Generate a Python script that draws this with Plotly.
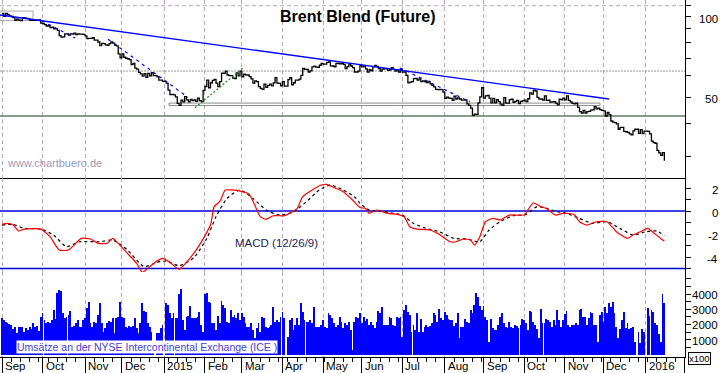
import numpy as np
import pandas as pd
import plotly.graph_objects as go

# ---------------- data ----------------
dates = pd.bdate_range("2014-09-01", "2016-01-15")        # one entry per trading day
axis_dates = pd.bdate_range("2014-09-01", "2016-02-01")   # axis extends to Feb 2016

close_2014_09 = [102.8, 100.3, 102.8, 101.8, 100.8, 100.2, 99.2, 97.0, 97.9, 97.1, 96.7, 99.1, 99.0, 98.5, 98.4, 97.0, 96.9, 97.0, 97.0, 97.0, 97.2, 94.7]
close_2014_10 = [94.2, 93.4, 92.3, 92.7, 91.1, 91.4, 90.1, 90.2, 88.9, 85.0, 83.8, 84.1, 86.2, 86.2, 85.4, 86.2, 86.1, 86.8, 85.8, 86.3, 86.0, 86.1, 85.9]
close_2014_11 = [84.8, 82.8, 82.9, 82.9, 83.4, 81.7, 81.7, 80.4, 77.9, 79.4, 79.3, 78.5, 78.1, 79.3, 80.4, 79.7, 78.3, 77.8, 72.6, 70.2]
close_2014_12 = [72.5, 70.5, 69.9, 69.6, 69.1, 66.2, 66.8, 64.2, 63.7, 61.9, 61.1, 59.9, 61.2, 59.3, 61.4, 60.1, 61.7, 60.2, None, 59.5, 57.9, 57.9, 57.3]
close_2015_01 = [None, 56.4, 53.1, 51.1, 51.2, 51.0, 50.1, 47.4, 46.6, 48.7, 48.0, 50.2, 48.8, 48.0, 49.0, 48.5, 48.8, 48.2, 49.6, 48.5, 48.1, 53.0]
close_2015_02 = [54.8, 57.9, 54.2, 56.6, 57.8, 58.3, 56.4, 54.7, 57.1, 61.5, 61.4, 62.5, 60.5, 60.2, 60.2, 58.9, 58.7, 61.6, 60.1, 62.6]
close_2015_03 = [59.5, 61.0, 60.6, 60.5, 59.7, 58.5, 56.4, 57.5, 57.1, 54.7, 53.9, 53.5, 55.9, 54.4, 55.3, 55.9, 55.1, 56.5, 59.2, 56.4, 56.3, 55.1]
close_2015_04 = [57.1, 55.0, None, 58.1, 59.1, 55.6, 56.6, 57.9, 57.9, 58.4, 60.3, 64.0, 63.5, 63.5, 62.1, 62.7, 64.9, 65.3, 64.8, 64.6, 65.8, 66.8]
close_2015_05 = [66.5, 66.5, 67.5, 67.8, 65.5, 65.4, 64.9, 66.9, 66.8, 66.6, 66.8, 66.3, 64.0, 65.0, 66.5, 65.4, 64.5, 62.1, 62.1, 62.6, 65.6]
close_2015_06 = [64.9, 65.5, 63.8, 62.0, 63.3, 62.7, 64.9, 65.7, 65.1, 63.9, 62.6, 63.7, 63.9, 63.8, 63.0, 63.3, 64.5, 63.5, 62.6, 63.3, 62.0, 63.6]
close_2015_07 = [62.0, 62.1, 60.3, 56.5, 56.9, 57.1, 58.6, 58.7, 57.9, 58.5, 57.1, 57.5, 57.1, 56.7, 57.2, 56.1, 55.3, 54.6, 53.5, 53.3, 53.4, 53.3, 52.2]
close_2015_08 = [49.5, 50.0, 49.6, 49.5, 48.6, 50.4, 49.2, 49.7, 49.2, 48.7, 48.7, 48.8, 47.2, 46.6, 45.5, 42.7, 43.2, 43.1, 47.6, 50.1, 54.2]
close_2015_09 = [49.6, 50.5, 50.7, 49.6, 47.6, 49.5, 47.6, 48.9, 48.1, 47.1, 46.6, 49.8, 47.5, 47.5, 48.9, 49.1, 47.8, 48.2, 48.6, 47.3, 48.2, 48.4]
close_2015_10 = [48.7, 48.1, 49.3, 51.9, 51.3, 53.1, 52.7, 49.9, 49.2, 49.2, 48.7, 50.5, 48.6, 48.7, 47.9, 48.0, 48.1, 47.5, 46.8, 49.1, 48.8, 49.6]
close_2015_11 = [48.8, 50.5, 48.6, 48.0, 47.4, 47.2, 47.5, 45.8, 44.1, 43.6, 44.6, 43.6, 44.1, 44.2, 44.7, 44.8, 46.1, 45.2, 45.5, 44.9, 44.6]
close_2015_12 = [44.4, 42.5, 43.8, 43.0, 40.7, 40.3, 40.1, 39.7, 37.9, 38.5, 38.5, 37.2, 37.1, 36.9, 36.4, 36.1, 37.4, 37.9, None, 36.6, 37.8, 36.5, 37.3]
close_2016_01 = [None, 37.2, 36.4, 34.2, 33.8, 33.6, 31.6, 30.9, 30.3, 31.0, 28.9]

vol_2014_09 = [2410, 2300, 2190, 2080, 2040, 1970, 1690, 1860, 1420, 1860, 1860, 1860, 1530, 1750, 1640, 1860, 1690, 2120, 1860, 1910, 1580, 2520]
vol_2014_10 = [2740, 2300, 2080, 2190, 2080, 2300, 2960, 2340, 4050, 4270, 4230, 2740, 2410, 2520, 2630, 2890, 1860, 1910, 2080, 2300, 1860, 1860, 2300]
vol_2014_11 = [2410, 3110, 3500, 2080, 1860, 2190, 2080, 2630, 3390, 2080, 1530, 1800, 2080, 2230, 2190, 2410, 1470, 2410, 2520, 3500]
vol_2014_12 = [2470, 2410, 1820, 1800, 1910, 1860, 1910, 2410, 1800, 1420, 2080, 3390, 2910, 2850, 2120, 1860, 1530, 300, 0, 1470, 1470, 1750, 1970]
vol_2015_01 = [0, 3390, 3290, 2740, 2410, 2740, 2410, 2410, 3990, 4340, 2300, 1640, 2520, 2560, 3220, 2450, 2410, 2450, 2520, 2850, 1970, 1530]
vol_2015_02 = [3990, 4050, 3460, 3390, 2080, 2080, 1640, 2560, 2080, 3550, 3290, 3070, 2190, 2080, 2960, 2520, 2630, 2410, 2740, 2300]
vol_2015_03 = [2740, 2520, 2080, 1860, 1860, 2080, 1640, 1100, 1750, 2080, 1530, 2520, 2410, 1860, 1750, 1860, 1970, 3180, 2190, 2300, 2190, 2520]
vol_2015_04 = [2850, 2410, 0, 1200, 2300, 2410, 1640, 1970, 2410, 1970, 3390, 2850, 2300, 2190, 2190, 2300, 2080, 3180, 1860, 1860, 1860, 1970]
vol_2015_05 = [2300, 1860, 1750, 2780, 2630, 2410, 2080, 1860, 1970, 2520, 2190, 1750, 2080, 1970, 2190, 1640, 330, 2190, 2520, 2410, 2740]
vol_2015_06 = [2130, 2520, 2200, 2370, 1970, 2150, 1970, 1750, 2190, 2910, 2740, 3130, 1970, 1970, 1970, 2520, 2450, 1970, 1910, 2520, 2410, 2520]
vol_2015_07 = [1200, 2960, 3290, 2850, 2630, 1530, 1970, 1640, 2740, 1530, 2340, 1530, 1860, 1970, 1860, 1910, 2080, 2740, 2630, 2190, 3020, 2410, 2300]
vol_2015_08 = [2850, 2630, 2340, 2300, 2300, 1910, 2080, 2740, 1100, 1860, 1860, 2340, 2190, 2080, 2960, 2780, 3270, 4050, 3830, 3220, 2960]
vol_2015_09 = [3220, 2520, 2300, 880, 2340, 1750, 1640, 1640, 1970, 2520, 2740, 2080, 1860, 1750, 2190, 1860, 1750, 1970, 1910, 1750, 1970, 2340]
vol_2015_10 = [2300, 2080, 1640, 2910, 2850, 2190, 1970, 1690, 1100, 3000, 2120, 2120, 2340, 2300, 2190, 1860, 2300, 1970, 2960, 2300, 1860, 2300]
vol_2015_11 = [2690, 2910, 1970, 1860, 1970, 1970, 2080, 1970, 2960, 3000, 2470, 2470, 1970, 2410, 2850, 2740, 1970, 1970, 880, 2630, 2850]
vol_2015_12 = [2190, 3130, 2740, 3390, 3180, 3500, 2740, 1860, 1100, 1690, 2300, 2850, 1750, 2080, 1690, 1750, 1860, 880, 0, 1530, 810, 1690, 1530]
vol_2016_01 = [0, 3070, 2560, 2960, 2850, 2080, 1970, 1380, 880, 4010, 3390]

# MACD (12/26/9): trading-day index -> value
macd_idx = [0, 3, 6, 9, 12, 21, 26, 31, 36, 43, 48, 52, 57, 60, 63, 68, 73, 76, 78, 83, 87, 91, 96, 100, 107,
            113, 115, 118, 121, 124, 128, 134, 137, 140, 143, 147, 153, 156, 160, 163, 169, 173, 176, 180, 185,
            190, 194, 197, 199, 203, 209, 214, 218, 221, 225, 232, 237, 243, 246, 250, 254, 256, 259, 262, 266,
            270, 275, 283, 285, 288, 292, 295, 300, 304, 310, 313, 317, 322, 328, 333, 339, 342, 346, 350, 353, 357, 359]
macd_val = [-1.16, -1.07, -1.22, -1.74, -1.57, -1.57, -2.23, -3.39, -3.39, -2.38, -2.43, -2.81, -2.81, -2.38, -2.81,
            -3.68, -4.55, -5.33, -5.13, -4.46, -4.12, -4.46, -5.07, -4.46, -2.96, -1.22, 0.38, 0.81, 1.83, 1.83,
            1.77, 1.45, 0.52, -0.49, -0.72, -0.41, -0.41, -0.2, 0.23, 1.25, 1.91, 2.26, 2.32, 2.03, 1.68,
            0.96, 0.3, 0.23, -0.2, 0.09, -0.2, -0.29, -0.49, -1.36, -1.57, -1.65, -2.03, -2.67, -2.67, -2.43,
            -2.52, -2.96, -2.23, -0.93, -0.64, -0.78, -0.35, -0.35, 0.09, 0.72, 0.38, 0.23, -0.35, -0.2, -0.29,
            -0.93, -1.22, -0.93, -0.93, -1.8, -2.38, -2.09, -1.8, -1.51, -1.86, -2.38, -2.61]
signal_idx = [0, 6, 12, 21, 28, 35, 42, 53, 60, 68, 77, 84, 89, 96, 104, 111, 116, 122, 129, 136, 144, 151, 158,
              165, 172, 178, 185, 192, 194, 199, 205, 212, 217, 223, 230, 237, 245, 252, 259, 264, 270, 277, 284,
              290, 295, 301, 306, 313, 320, 328, 335, 342, 349, 355, 359]
signal_val = [-1.22, -1.16, -1.51, -1.57, -2.09, -3.1, -2.67, -2.67, -2.52, -3.39, -4.84, -4.46, -4.35, -4.75, -4.06,
              -2.38, -0.49, 1.1, 1.83, 1.1, 0.0, -0.35, -0.06, 0.81, 1.83, 2.26, 1.83, 1.1, 0.67, 0.09,
              0.0, -0.2, -0.35, -1.07, -1.51, -1.8, -2.38, -2.43, -2.67, -1.65, -0.93, -0.41, -0.29, 0.38, 0.23,
              -0.06, -0.2, -0.64, -1.07, -0.93, -1.51, -2.09, -1.8, -1.74, -2.14]
macd_levels = [0, -5]

# drawn analysis lines (trading-day index, price)
trend_main_x = [-1, 329]
trend_main_y = [101.5, 49.2]
trend_dash1_x = [57.5, 100.8]
trend_dash1_y = [82.4, 49.9]
trend_dash2_x = [215.7, 253.7]
trend_dash2_y = [64.3, 48.0]
trend_dash3_x = [21.7, 39.6]
trend_dash3_y = [96.4, 83.3]
trend_up_x = [104.6, 130.6]
trend_up_y = [45.6, 64.3]
support_band_x = [90.5, 324.1]
support_band_y = [46.5, 47.5]
top_box_x = [-1.1, 16.8]
top_box_y = [96.8, 105.0]
support_level = 42.5
resist_level = 62.6
grid_level = 110

month_labels = ["Sep", "Oct", "Nov", "Dec", "2015", "Feb", "Mar", "Apr", "May", "Jun", "Jul", "Aug",
                "Sep", "Oct", "Nov", "Dec", "2016", ""]
price_tick_vals = [30, 40, 50, 60, 70, 80, 90, 100, 110]
price_label_vals = [100, 50]
macd_label_vals = [2, 0, -2, -4]
vol_label_vals = [4000, 3000, 2000, 1000]

# ---------------- assemble ----------------
close = (close_2014_09 + close_2014_10 + close_2014_11 + close_2014_12 + close_2015_01 + close_2015_02 +
         close_2015_03 + close_2015_04 + close_2015_05 + close_2015_06 + close_2015_07 + close_2015_08 +
         close_2015_09 + close_2015_10 + close_2015_11 + close_2015_12 + close_2016_01)
volume = (vol_2014_09 + vol_2014_10 + vol_2014_11 + vol_2014_12 + vol_2015_01 + vol_2015_02 + vol_2015_03 +
          vol_2015_04 + vol_2015_05 + vol_2015_06 + vol_2015_07 + vol_2015_08 + vol_2015_09 + vol_2015_10 +
          vol_2015_11 + vol_2015_12 + vol_2016_01)
assert len(close) == len(dates) == len(volume)
xi = np.arange(len(dates))

month_pos = [i for i in range(len(axis_dates)) if i == 0 or axis_dates[i].month != axis_dates[i - 1].month]
monday_pos = [i for i, d in enumerate(axis_dates) if d.weekday() == 0]

FONT = "Liberation Sans, Arial, sans-serif"
XR = [-1.084, 370.2]
GRID = "#b8a8b8"

fig = go.Figure()


def line_trace(x, y, color, width, dash="solid", xa="x", ya="y"):
    fig.add_trace(go.Scatter(x=x, y=y, mode="lines", hoverinfo="skip",
                             line=dict(color=color, width=width, dash=dash), xaxis=xa, yaxis=ya))


# price panel: horizontal reference lines (behind the price)
line_trace(XR, [grid_level, grid_level], GRID, 1, "4px,3px")
line_trace(XR, [resist_level, resist_level], "#999999", 1, "2px,1px")
line_trace(XR, [support_level, support_level], "#5f7d5f", 1.3)
# boxes
bx0, bx1 = support_band_x
by0, by1 = support_band_y
line_trace([bx0, bx1, bx1, bx0, bx0], [by0, by0, by1, by1, by0], "#8c8c8c", 1)
tx0, tx1 = top_box_x
ty0, ty1 = top_box_y
line_trace([tx0, tx1, tx1, tx0, tx0], [ty0, ty0, ty1, ty1, ty0], "#a8a8a8", 1)

fig.add_trace(go.Scatter(x=xi, y=close, mode="lines", connectgaps=True,
                         line=dict(color="black", width=1.3, shape="hv"), xaxis="x", yaxis="y"))
line_trace(trend_main_x, trend_main_y, "#0000ff", 1.3)
for tx, ty in [(trend_dash1_x, trend_dash1_y), (trend_dash2_x, trend_dash2_y), (trend_dash3_x, trend_dash3_y)]:
    line_trace(tx, ty, "#0000ff", 1.2, "3px,4px")
line_trace(trend_up_x, trend_up_y, "#109010", 1.2, "2px,2px")

# MACD panel
for lv in macd_levels:
    line_trace(XR, [lv, lv], "#0000dd", 1.5, "solid", "x2", "y2")
fig.add_trace(go.Scatter(x=signal_idx, y=signal_val, mode="lines",
                         line=dict(color="black", width=1.2, dash="3px,3px", shape="spline", smoothing=0.6),
                         xaxis="x2", yaxis="y2"))
fig.add_trace(go.Scatter(x=macd_idx, y=macd_val, mode="lines",
                         line=dict(color="#ff0000", width=1.2, shape="spline", smoothing=0.5),
                         xaxis="x2", yaxis="y2"))

# volume panel
fig.add_trace(go.Bar(x=xi, y=volume, width=0.45, marker=dict(color="#0000ff", line=dict(width=0)),
                     xaxis="x3", yaxis="y3"))

lg = np.log10
ann = []
ann.append(dict(text="<b>Brent Blend (Future)</b>", xref="paper", yref="paper", x=0.5226, y=0.9524,
                xanchor="center", yanchor="middle", showarrow=False, font=dict(family=FONT, size=16, color="black")))
ann.append(dict(text="www.chartbuero.de", xref="paper", yref="paper", x=5 / 685, y=0.5434,
                xanchor="left", yanchor="middle", showarrow=False, font=dict(family=FONT, size=11, color="#9a9ab8")))
ann.append(dict(text="MACD (12/26/9)", xref="paper", yref="paper", x=233 / 685, y=0.3193,
                xanchor="left", yanchor="middle", showarrow=False, font=dict(family=FONT, size=11.5, color="#1c1c5c")))
ann.append(dict(text="Umsätze an der NYSE Intercontinental Exchange (ICE )", xref="paper", yref="paper",
                x=16 / 685, y=0.028, xanchor="left", yanchor="middle", showarrow=False, bgcolor="white",
                borderpad=0, font=dict(family=FONT, size=10.5, color="#4a3cd8")))
ann.append(dict(text="x100", xref="paper", yref="paper", x=699.5 / 685, y=-0.004, xanchor="center",
                yanchor="middle", showarrow=False, bordercolor="black", borderwidth=1, borderpad=0,
                font=dict(family=FONT, size=9.5, color="black")))
LX = 720 / 685
for v in price_label_vals:
    ann.append(dict(text=str(v), xref="paper", yref="y", x=LX, y=lg(v), xanchor="right", yanchor="middle",
                    yshift=-2, showarrow=False, font=dict(family=FONT, size=11.5, color="black")))
for v in macd_label_vals:
    ann.append(dict(text=str(v), xref="paper", yref="y2", x=LX, y=v, xanchor="right", yanchor="middle",
                    yshift=-2, showarrow=False, font=dict(family=FONT, size=11.5, color="black")))
for v in vol_label_vals:
    ann.append(dict(text=str(v), xref="paper", yref="y3", x=LX, y=v, xanchor="right", yanchor="middle",
                    yshift=-1, showarrow=False, font=dict(family=FONT, size=11.5, color="black")))
for p, lab in zip(month_pos, month_labels):
    if lab:
        ann.append(dict(text=lab, xref="x3", yref="paper", x=p, y=0, xanchor="left", yanchor="top",
                        xshift=1, yshift=-1, showarrow=False, font=dict(family=FONT, size=11.5, color="black")))

xcommon = dict(range=XR, tickvals=month_pos, showgrid=True, gridcolor=GRID, griddash="4px,3px", gridwidth=1,
               zeroline=False, showticklabels=False, domain=[0, 1])
ycommon = dict(side="right", ticks="outside", ticklen=5, tickcolor="black", tickwidth=1, showticklabels=False,
               showgrid=False, zeroline=False, showline=True, linecolor="black", linewidth=1)

fig.update_layout(
    width=723, height=373, margin=dict(l=0, r=38, t=0, b=16),
    paper_bgcolor="white", plot_bgcolor="white", showlegend=False,
    xaxis=dict(**xcommon, anchor="y", showline=True, linecolor="black", linewidth=1, ticks=""),
    xaxis2=dict(**xcommon, anchor="y2", matches="x", showline=False, ticks=""),
    xaxis3=dict(**xcommon, anchor="y3", matches="x", showline=True, linecolor="black", linewidth=1,
                ticks="outside", ticklen=16, tickcolor="black", tickwidth=1,
                minor=dict(tickvals=monday_pos, ticks="outside", ticklen=4, tickcolor="black", showgrid=False)),
    yaxis=dict(**ycommon, anchor="x", domain=[0.5014, 1.0], type="log",
               range=[np.log10(24.9), np.log10(115.5)], tickvals=price_tick_vals),
    yaxis2=dict(**ycommon, anchor="x2", domain=[0.2381, 0.5014], range=[-5.30, 2.87],
                tickvals=list(range(-5, 3))),
    yaxis3=dict(**ycommon, anchor="x3", domain=[0.0, 0.2381], range=[-131, 5443],
                tickvals=list(range(500, 5500, 500))),
    annotations=ann, bargap=0,
)

fig.write_html("out.html")
